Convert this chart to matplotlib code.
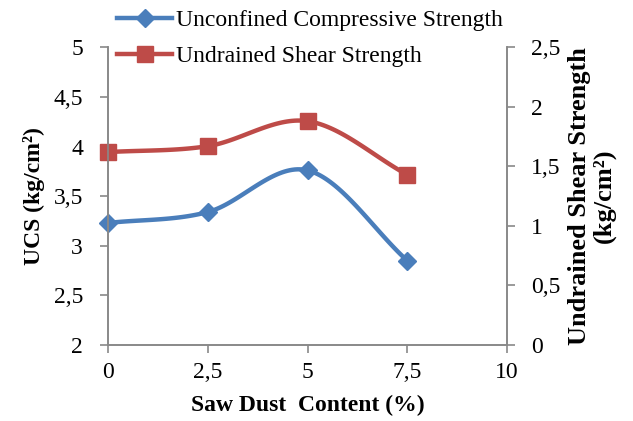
import numpy as np
import matplotlib.pyplot as plt

plt.rcParams['font.family'] = ['Liberation Serif', 'DejaVu Serif']

sawdust = [0, 2.5, 5, 7.5]
ucs = [3.23, 3.34, 3.76, 2.85]
shear = [1.62, 1.67, 1.88, 1.43]

blue = '#4a7ebb'
red = '#be4b48'
grey = '#898989'


def smooth(x, y, n=40):
    # Catmull-Rom curve through the points, like Excel's smoothed line
    x = np.asarray(x, float)
    y = np.asarray(y, float)
    px = np.concatenate([[2 * x[0] - x[1]], x, [2 * x[-1] - x[-2]]])
    py = np.concatenate([[2 * y[0] - y[1]], y, [2 * y[-1] - y[-2]]])
    xs, ys = [], []
    t = np.linspace(0, 1, n)
    for i in range(1, len(px) - 2):
        for p, out in ((px, xs), (py, ys)):
            p0, p1, p2, p3 = p[i - 1], p[i], p[i + 1], p[i + 2]
            out.extend(0.5 * ((2 * p1) + (-p0 + p2) * t
                              + (2 * p0 - 5 * p1 + 4 * p2 - p3) * t ** 2
                              + (-p0 + 3 * p1 - 3 * p2 + p3) * t ** 3))
    return xs, ys


fig = plt.figure(figsize=(6.33, 4.21), dpi=100)
ax = fig.add_axes([0.1706, 0.1805, 0.6304, 0.7071])
ax2 = ax.twinx()

sx, sy = smooth(sawdust, ucs)
ax.plot(sx, sy, color=blue, lw=3.2, solid_capstyle='round', clip_on=False)
ax.plot(sawdust, ucs, 'D', color=blue, ms=9, ls='none', clip_on=False)
sx, sy = smooth(sawdust, shear)
ax2.plot(sx, sy, color=red, lw=3.2, solid_capstyle='round', clip_on=False)
ax2.plot(sawdust, shear, 's', color=red, ms=11, ls='none', clip_on=False)

ax.set_xlim(0, 10)
ax.set_ylim(2, 5)
ax2.set_ylim(0, 2.5)
ax.set_xticks([0, 2.5, 5, 7.5, 10])
ax.set_xticklabels(['0', '2,5', '5', '7,5', '10'])
ax.set_yticks([2, 2.5, 3, 3.5, 4, 4.5, 5])
ax.set_yticklabels(['2', '2,5', '3', '3,5', '4', '4,5', '5'])
ax2.set_yticks([0, 0.5, 1, 1.5, 2, 2.5])
ax2.set_yticklabels(['0', '0,5', '1', '1,5', '2', '2,5'])

for a in (ax, ax2):
    a.spines['top'].set_visible(False)
    for s in ('left', 'right', 'bottom'):
        a.spines[s].set_color(grey)
        a.spines[s].set_linewidth(1.2)
    a.tick_params(colors=grey, labelcolor='black', labelsize=17,
                  length=6, width=1.2)
ax.tick_params(axis='x', pad=6)
ax.tick_params(axis='y', pad=12)
ax2.tick_params(axis='y', pad=11)

ax.set_xlabel('Saw Dust  Content (%)', fontsize=17, fontweight='bold', labelpad=9)
ax.set_ylabel('UCS (kg/cm²)', fontsize=17, fontweight='bold', labelpad=6)
ax2.set_ylabel('Undrained Shear Strength\n(kg/cm²)', fontsize=19,
               fontweight='bold', labelpad=6, linespacing=1.05)

handles = [
    plt.Line2D([], [], color=blue, lw=3.2, marker='D', ms=9),
    plt.Line2D([], [], color=red, lw=3.2, marker='s', ms=11),
]
fig.legend(handles, ['Unconfined Compressive Strength', 'Undrained Shear Strength'],
           loc='upper left', bbox_to_anchor=(117 / 633, 0.977), frameon=False,
           borderpad=0, borderaxespad=0,
           fontsize=17, handlelength=2.35, handletextpad=0.17, labelspacing=0.6)

fig.savefig('out.png', dpi=100)
